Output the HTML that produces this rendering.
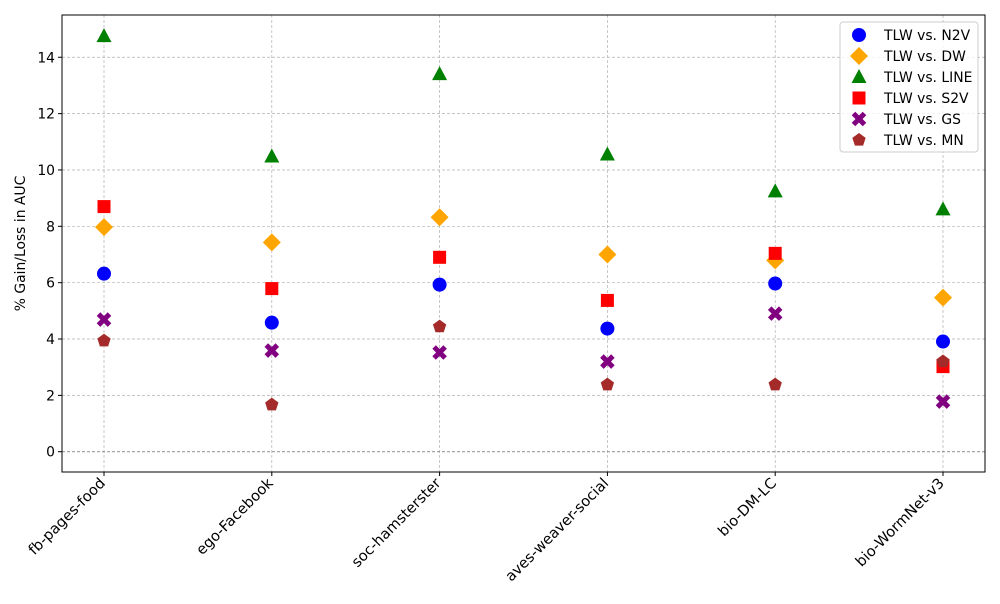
<!DOCTYPE html>
<html><head><meta charset="utf-8"><style>
body{margin:0;background:#fff;font-family:"DejaVu Sans","Liberation Sans",sans-serif}
svg text{font-family:"DejaVu Sans","Liberation Sans",sans-serif}
</style></head><body>
<svg id="chart" width="1000" height="600" xmlns="http://www.w3.org/2000/svg"></svg>
<script>
const categories=["fb-pages-food","ego-Facebook","soc-hamsterster","aves-weaver-social","bio-DM-LC","bio-WormNet-v3"];
const seriesNames=["TLW vs. N2V","TLW vs. DW","TLW vs. LINE","TLW vs. S2V","TLW vs. GS","TLW vs. MN"];
const n2v=[6.32,4.58,5.93,4.37,5.97,3.91];
const dw=[7.97,7.43,8.32,7.0,6.79,5.47];
const line=[14.75,10.48,13.4,10.55,9.24,8.6];
const s2v=[8.7,5.79,6.9,5.37,7.04,3.02];
const gs=[4.69,3.59,3.52,3.2,4.9,1.78];
const mn=[3.94,1.67,4.44,2.38,2.38,3.2];
const yTicks=[0,2,4,6,8,10,12,14];
const NS="http://www.w3.org/2000/svg";
const svg=document.getElementById('chart');
const L=62,R=985,T=15,B=472,yMin=-0.72,yMax=15.5;
const xs=i=>104+i*(943-104)/(categories.length-1);
const ys=v=>B-(v-yMin)/(yMax-yMin)*(B-T);
function mk(tag,attrs,parent){const e=document.createElementNS(NS,tag);for(const k in attrs)e.setAttribute(k,attrs[k]);(parent||svg).appendChild(e);return e;}
categories.forEach((c,i)=>{const g=mk('line',{x1:xs(i),x2:xs(i),y1:T,y2:B,stroke:'#b0b0b0','stroke-width':0.7,'stroke-dasharray':'3,2'});

});
yTicks.forEach(v=>{const g=mk('line',{x1:L,x2:R,y1:ys(v),y2:ys(v),stroke:'#b0b0b0','stroke-width':0.7,'stroke-dasharray':'3,2'});

});
const z=mk('line',{x1:L,x2:R,y1:ys(0),y2:ys(0),stroke:'#808080','stroke-width':0.8,'stroke-dasharray':'3,2'});


function marker(type,x,y,parent){
 let e;
 if(type===0)e=mk('circle',{cx:x,cy:y,r:7,fill:'blue'},parent);
 else if(type===1)e=mk('polygon',{points:`${x},${y-9} ${x+9},${y} ${x},${y+9} ${x-9},${y}`,fill:'orange'},parent);
 else if(type===2)e=mk('polygon',{points:`${x},${y-8} ${x+7.5},${y+6} ${x-7.5},${y+6}`,fill:'green'},parent);
 else if(type===3)e=mk('rect',{x:x-6.5,y:y-6.5,width:13,height:13,fill:'red'},parent);
 else if(type===4)e=mk('path',{d:`M${x-5.5},${y-5.5}L${x+5.5},${y+5.5}M${x+5.5},${y-5.5}L${x-5.5},${y+5.5}`,stroke:'purple','stroke-width':5,'stroke-linecap':'butt'},parent);
 else{let p=[];for(let k=0;k<5;k++){const a=-Math.PI/2+k*2*Math.PI/5;p.push((x+7*Math.cos(a))+','+(y+7*Math.sin(a)));}e=mk('polygon',{points:p.join(' '),fill:'brown'},parent);}
 return e;}
const all=[n2v,dw,line,s2v,gs,mn];
all.forEach((arr,s)=>{arr.forEach((v,i)=>{const m=marker(s,xs(i),ys(v));

});});
const f=mk('rect',{x:L,y:T,width:R-L,height:B-T,fill:'none',stroke:'#000','stroke-width':1});


yTicks.forEach(v=>{mk('line',{x1:L-4,x2:L,y1:ys(v),y2:ys(v),stroke:'#000'});
const t=mk('text',{x:L-7,y:ys(v)+5,'font-size':13.9,'text-anchor':'end'});t.textContent=v;

});
categories.forEach((c,i)=>{mk('line',{x1:xs(i),x2:xs(i),y1:B,y2:B+4,stroke:'#000'});
const ax=xs(i)+2,ay=B+12;
const t=mk('text',{x:ax,y:ay,'font-size':14.6,'text-anchor':'end',transform:`rotate(-45 ${ax} ${ay})`});t.textContent=c;

});
const yl=mk('text',{x:25,y:(T+B)/2,'font-size':13.9,'text-anchor':'middle',transform:`rotate(-90 25 ${(T+B)/2})`});yl.textContent='% Gain/Loss in AUC';


const lg=mk('g',{});


mk('rect',{x:840,y:22,width:138,height:130,rx:3,fill:'#fff','fill-opacity':0.8,stroke:'#ccc'},lg);
seriesNames.forEach((n,s)=>{const y=35+s*21;marker(s,859,y,lg);
const t=mk('text',{x:884,y:y+5,'font-size':13.9},lg);t.textContent=n;

});
</script>
</body></html>
